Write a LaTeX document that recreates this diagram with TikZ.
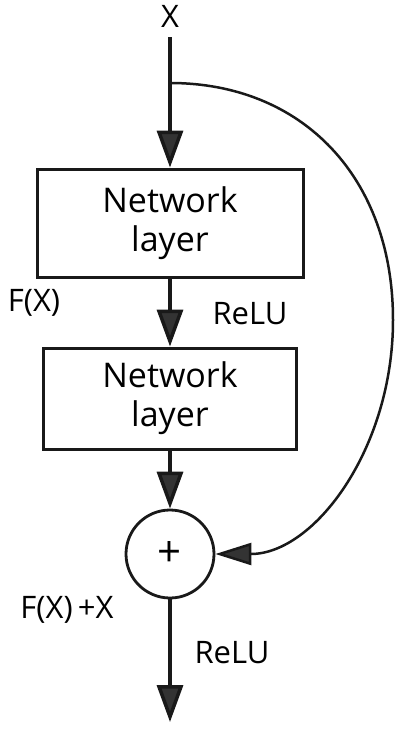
\documentclass[tikz,border=0pt]{standalone}
\usepackage{fontspec}
\setmainfont{Open Sans}
\usetikzlibrary{arrows.meta,positioning}

\tikzset{
  layerbox/.style={draw=black!90, line width=1.5pt, align=center,
    font=\fontsize{17}{19.5}\selectfont},
  sumnode/.style={draw=black!90, circle, line width=1.4pt, minimum size=44pt,
    inner sep=0pt, font=\fontsize{21}{24}\selectfont},
  lbl/.style={font=\fontsize{15.5}{18}\selectfont, inner sep=0pt},
  flow/.style={line width=1.75pt, draw=black!90,
    -{Triangle[length=18.5pt,width=13pt,fill=black!80]}},
  skip/.style={line width=1.25pt, draw=black!90,
    -{Triangle[length=18pt,width=11pt,fill=black!80]}}
}

\begin{document}
\begin{tikzpicture}[x=0.5pt,y=-0.5pt]
\useasboundingbox (0,0) rectangle (400,729);
% input and the two layers
\node[lbl] (x) at (170,16) {X};
\coordinate (in) at (170,37);
\coordinate (branch) at (170,83);
\node[layerbox, minimum width=133pt, minimum height=54pt] (layer1) at (170,223) {Network\\layer};
\node[layerbox, minimum width=126.5pt, minimum height=50.5pt] (layer2) at (170,398.5) {Network\\layer};
\node[sumnode] (sum) at (170,554) {+};
\coordinate (out) at (170,722);
\coordinate (bend) at (393,320);
% labels
\node[lbl] (fx) at (34,303) {F(X)};
\node[lbl] (relu1) at (250,314) {ReLU};
\node[lbl] (fxx) at (67,610) {F(X)\,+X};
\node[lbl] (relu2) at (232,653) {ReLU};
% connectors
\draw[flow] (in) -- (layer1.north);
\draw[flow] (layer1.south) -- (layer2.north);
\draw[flow] (layer2.south) -- (sum.north);
\draw[flow] (sum.south) -- (out);
\draw[skip] (branch) .. controls (303,83) and (393,178) .. (bend)
  .. controls (393,449) and (314,554) .. (sum.east);
\end{tikzpicture}
\end{document}
